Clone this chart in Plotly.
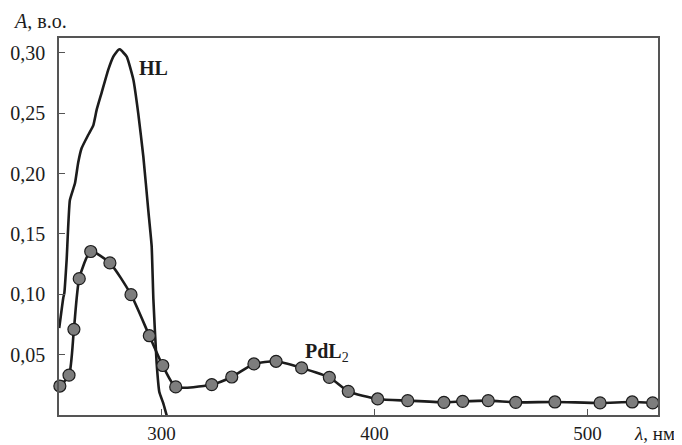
import plotly.graph_objects as go

# HL absorption spectrum (continuous curve)
hl_wl = [252.0, 253.9, 254.4, 255.5, 257.0, 259.4, 260.9, 262.5, 265.6, 268.0,
         269.6, 271.9, 275.0, 277.4, 279.7, 280.5, 283.7, 286.8, 289.1, 291.5,
         293.8, 295.4, 296.2, 297.7, 299.0, 300.8, 302.4, 303.5]
hl_abs = [0.072, 0.097, 0.101, 0.129, 0.178, 0.192, 0.209, 0.221, 0.232, 0.240,
          0.253, 0.267, 0.286, 0.297, 0.3025, 0.303, 0.297, 0.278, 0.250, 0.214,
          0.170, 0.140, 0.096, 0.044, 0.019, 0.010, 0.0, -0.006]

# PdL2 absorption spectrum (measured points)
pd_wl = [252.3, 256.6, 258.9, 261.4, 266.8, 275.8, 285.7, 294.3, 300.6, 306.7,
         323.6, 333.0, 343.4, 353.8, 365.8, 378.8, 387.7, 401.5, 415.6, 432.6,
         441.4, 453.4, 466.3, 484.7, 505.9, 521.0, 530.6]
pd_abs = [0.024, 0.033, 0.071, 0.113, 0.1355, 0.126, 0.0997, 0.0657, 0.041, 0.0233,
          0.0252, 0.0315, 0.0423, 0.0445, 0.039, 0.0312, 0.0196, 0.0133, 0.0119, 0.0105,
          0.0113, 0.0119, 0.0105, 0.0108, 0.010, 0.0108, 0.010]

y_ticks = [0.05, 0.10, 0.15, 0.20, 0.25, 0.30]
y_ticktext = ["0,05", "0,10", "0,15", "0,20", "0,25", "0,30"]
x_ticks = [300, 400, 500]
x_ticktext = ["300", "400", "500"]

FONT = "Liberation Serif"
INK = "#1c1c1c"

fig = go.Figure()
fig.add_trace(go.Scatter(
    x=hl_wl, y=hl_abs, mode="lines",
    line=dict(color=INK, width=2.6, shape="spline", smoothing=0.4),
    showlegend=False, hoverinfo="skip"))
fig.add_trace(go.Scatter(
    x=pd_wl, y=pd_abs, mode="lines+markers",
    line=dict(color=INK, width=2.6, shape="spline", smoothing=0.6),
    marker=dict(size=12, color="#7d7d7d", line=dict(color=INK, width=1.2)),
    cliponaxis=False,
    showlegend=False, hoverinfo="skip"))

# the page body adds an 8px margin at left/top, so the figure is 8px smaller
fig.update_layout(
    width=674, height=437,
    margin=dict(l=51, r=24, t=30, b=30, autoexpand=False),
    paper_bgcolor="white", plot_bgcolor="white",
    font=dict(family=FONT, size=20, color=INK),
    xaxis=dict(range=[251.9, 533.1], tickvals=x_ticks, ticktext=x_ticktext,
               ticks="inside", ticklen=6, tickwidth=1.2, tickcolor="#555",
               showline=True, linecolor="#555", linewidth=1.5, mirror=True,
               showgrid=False, zeroline=False, ticklabelstandoff=0,
               tickfont=dict(family=FONT, size=19, color=INK),
               automargin=False),
    yaxis=dict(range=[0, 0.3124], tickvals=y_ticks, ticktext=y_ticktext,
               ticks="inside", ticklen=6, tickwidth=1.2, tickcolor="#555",
               showline=True, linecolor="#555", linewidth=1.5, mirror=True,
               showgrid=False, zeroline=False, ticklabelstandoff=8,
               automargin=False),
    annotations=[
        dict(text="<i>A</i>, в.о.", xref="paper", yref="paper", x=-0.08, y=1.0,
             xanchor="left", yanchor="bottom", yshift=4, showarrow=False,
             font=dict(family=FONT, size=20, color=INK)),
        dict(text="<i>λ</i>, нм", xref="paper", yref="paper", x=1.032, y=0,
             xanchor="right", yanchor="top", yshift=-6, showarrow=False,
             font=dict(family=FONT, size=19, color=INK)),
        dict(text="<b>HL</b>", x=288.5, y=0.2876, xanchor="left", yanchor="middle",
             showarrow=False, font=dict(family=FONT, size=20, color=INK)),
        dict(text="<b>PdL</b><sub>2</sub>", x=366.4, y=0.052, xanchor="left",
             yanchor="middle", showarrow=False,
             font=dict(family=FONT, size=20, color=INK)),
    ],
)

fig.write_html("out.html")
